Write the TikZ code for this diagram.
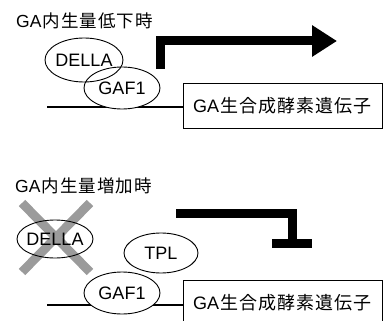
\documentclass[tikz,border=0pt]{standalone}
\usepackage{fontspec}
\setmainfont{Liberation Sans}
\newfontfamily\jp{Noto Sans CJK JP}[LetterSpace=6]
\usetikzlibrary{shapes.geometric,arrows.meta}
\definecolor{crossgray}{RGB}{155,155,155}
\newcommand{\latinGA}{{\rmfamily GA}\kern1pt}

\begin{document}
\begin{tikzpicture}[x=1pt,y=-1pt,
  heading/.style={inner sep=0pt, anchor=west, font=\jp\fontsize{17.5}{17.5}\selectfont},
  protein/.style={ellipse, inner sep=0pt, font=\fontsize{18}{18}\selectfont},
  rim/.style={line width=0.9pt},
  blank/.style={fill=white},
  genebox/.style={rectangle, draw, line width=0.9pt, fill=white, minimum width=199pt,
    minimum height=45pt, inner sep=0pt, font=\jp\fontsize{18}{18}\selectfont},
  dna/.style={line width=1.4pt},
  signal/.style={line width=9pt, line join=miter},
  crossout/.style={draw=crossgray, line width=9pt}
]
\useasboundingbox (0,0) rectangle (383,321);

% ---------- low GA: DELLA-GAF1 activates the gene ----------
\node[heading] (t1) at (16,21) {\latinGA 内生量低下時};
\node[genebox] (box1) at (282.5,105.5) {\latinGA 生合成酵素遺伝子};
\coordinate (dna1) at (47,107);
\draw[dna] (dna1) -- (dna1 -| box1.west);

\coordinate (cDellaA) at (84,60);
\coordinate (cGafA) at (122,88);
\fill[blank] (cGafA) ellipse [x radius=38, y radius=21];
\fill[blank] (cDellaA) ellipse [x radius=39, y radius=22];
\node[protein] (della1) at (cDellaA) {DELLA};
\node[protein] (gaf1a) at (cGafA) {GAF1};
\draw[rim] (della1.center) ellipse [x radius=39, y radius=22];
\draw[rim] (gaf1a.center) ellipse [x radius=38, y radius=21];

\coordinate (actStart) at (160.5,69);
\coordinate (actEnd) at (337,41);
\draw[signal, -{Triangle[length=25pt, width=30pt]}] (actStart) |- (actEnd);

% ---------- high GA: DELLA removed, TPL represses the gene ----------
\node[heading] (t2) at (15,186) {\latinGA 内生量増加時};
\node[genebox, minimum height=46pt] (box2) at (282.5,303) {\latinGA 生合成酵素遺伝子};
\coordinate (dna2) at (47,305);
\draw[dna] (dna2) -- (dna2 -| box2.west);

\coordinate (xa) at (22,203);
\coordinate (xb) at (90,272);
\coordinate (xc) at (90,203);
\coordinate (xd) at (22,272);
\draw[crossout] (xa) -- (xb) (xc) -- (xd);

\node[protein] (della2) at (55,239) {DELLA};
\draw[rim] (della2.center) ellipse [x radius=38, y radius=19];

\coordinate (cGafB) at (122,293);
\coordinate (cTpl) at (161,253);
\fill[blank] (cGafB) ellipse [x radius=38, y radius=21];
\fill[blank] (cTpl) ellipse [x radius=37, y radius=20];
\node[protein] (gaf1b) at (cGafB) {GAF1};
\node[protein] (tpl) at (cTpl) {TPL};
\draw[rim] (tpl.center) ellipse [x radius=37, y radius=20];
\draw[rim] (gaf1b.center) ellipse [x radius=38, y radius=21];

\coordinate (repStart) at (176,213.5);
\coordinate (repEnd) at (292.5,243.5);
\coordinate (barL) at (272,243.5);
\coordinate (barR) at (312,243.5);
\draw[signal] (repStart) -| (repEnd);
\draw[signal] (barL) -- (barR);
\end{tikzpicture}
\end{document}
